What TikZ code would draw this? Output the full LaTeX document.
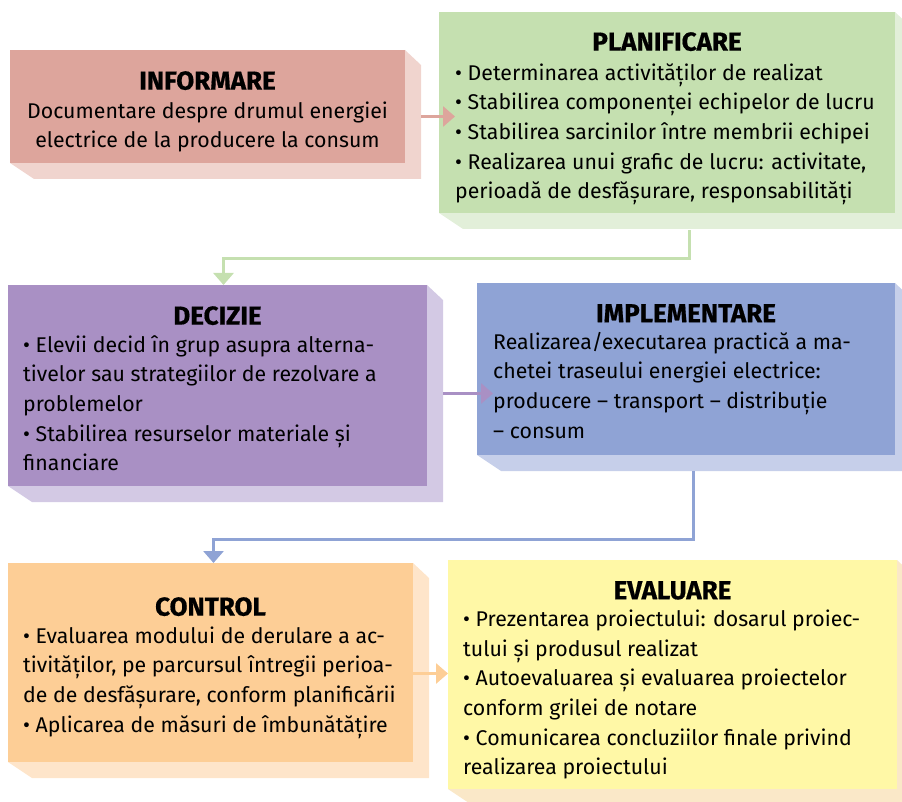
\documentclass[tikz,border=0pt]{standalone}
\usepackage{fontspec}
\setmainfont{Fira Sans}
\newfontfamily\stagefont{Fira Sans}[BoldFeatures={FakeBold=0.6}]
\usetikzlibrary{positioning, backgrounds, arrows.meta}

\definecolor{infoF}{HTML}{DDA59C}
\definecolor{infoS}{HTML}{F0D4CE}
\definecolor{planF}{HTML}{C5E0B0}
\definecolor{planS}{HTML}{E2EFD9}
\definecolor{deciF}{HTML}{A990C4}
\definecolor{deciS}{HTML}{D3C9E4}
\definecolor{implF}{HTML}{8FA3D5}
\definecolor{implS}{HTML}{C6CFEA}
\definecolor{ctrlF}{HTML}{FDCE96}
\definecolor{ctrlS}{HTML}{FEE5CA}
\definecolor{evalF}{HTML}{FFF8A6}
\definecolor{evalS}{HTML}{FAE8C8}

\begin{document}
\begin{tikzpicture}[
    x=1pt, y=-1pt,
    stagebox/.style={inner sep=0, outer sep=0, anchor=north west},
    stagetitle/.style={inner sep=0, font=\stagefont\bfseries\fontsize{26}{30}\selectfont},
    stagetext/.style={inner sep=0, anchor=north west, align=left, font=\fontsize{21.3}{29.6}\selectfont},
    flow/.style={line width=3pt, -{Triangle[width=20pt, length=12pt]}}
]
    \useasboundingbox (0,0) rectangle (902,802);

    % Front faces of the six stages
    \node[stagebox, fill=infoF, minimum width=395pt, minimum height=113pt] (info) at (10,50) {};
    \node[stagebox, fill=planF, minimum width=456pt, minimum height=201pt] (plan) at (439,12) {};
    \node[stagebox, fill=deciF, minimum width=419pt, minimum height=201pt] (deci) at (8,285) {};
    \node[stagebox, fill=implF, minimum width=418pt, minimum height=172pt] (impl) at (477,283) {};
    \node[stagebox, fill=ctrlF, minimum width=405pt, minimum height=199pt] (ctrl) at (8,563) {};
    \node[stagebox, fill=evalF, minimum width=449pt, minimum height=229pt] (eval) at (448,560) {};

    % Extruded shadows behind the faces
    \begin{scope}[on background layer]
        \foreach \n/\c in {info/infoS, plan/planS, deci/deciS, impl/implS, ctrl/ctrlS, eval/evalS} {
            \fill[\c] (\n.north east) -- ++(16,15) |- ([xshift=24pt, yshift=-16pt]\n.south west)
                -- (\n.south west) -- cycle;
        }
    \end{scope}

    % Titles
    \node[stagetitle, below=21pt of info.north] (infot) {INFORMARE};
    \node[stagetitle, below=20pt of plan.north] (plant) {PLANIFICARE};
    \node[stagetitle, below=21pt of deci.north] (decit) {DECIZIE};
    \node[stagetitle, below=21pt of impl.north] (implt) {IMPLEMENTARE};
    \node[stagetitle, below=34pt of ctrl.north] (ctrlt) {CONTROL};
    \node[stagetitle, below=21pt of eval.north] (evalt) {EVALUARE};

    % Texts
    \node[stagetext, anchor=north, align=center, yshift=-7pt] (infob) at (infot.south)
        {\strut Documentare despre drumul energiei\\electrice de la producere la consum};
    \node[stagetext, xshift=16pt, yshift=-8pt] (planb) at (plant.south -| plan.west)
        {\strut • Determinarea activităților de realizat\\
         • Stabilirea componenței echipelor de lucru\\
         • Stabilirea sarcinilor între membrii echipei\\
         • Realizarea unui grafic de lucru: activitate,\\
         perioadă de desfășurare, responsabilități};
    \node[stagetext, xshift=15pt, yshift=-6pt] (decib) at (decit.south -| deci.west)
        {\strut • Elevii decid în grup asupra alterna-\\
         tivelor sau strategiilor de rezolvare a\\
         problemelor\\
         • Stabilirea resurselor materiale și\\
         financiare};
    \node[stagetext, xshift=16pt, yshift=-6pt] (implb) at (implt.south -| impl.west)
        {\strut Realizarea/executarea practică a ma-\\
         chetei traseului energiei electrice:\\
         producere – transport – distribuție\\
         – consum};
    \node[stagetext, xshift=15pt, yshift=-6pt] (ctrlb) at (ctrlt.south -| ctrl.west)
        {\strut • Evaluarea modului de derulare a ac-\\
         tivităților, pe parcursul întregii perioa-\\
         de de desfășurare, conform planificării\\
         • Aplicarea de măsuri de îmbunătățire};
    \node[stagetext, xshift=15pt, yshift=-6pt] (evalb) at (evalt.south -| eval.west)
        {\strut • Prezentarea proiectului: dosarul proiec-\\
         tului și produsul realizat\\
         • Autoevaluarea și evaluarea proiectelor\\
         conform grilei de notare\\
         • Comunicarea concluziilor finale privind\\
         realizarea proiectului};

    % Connectors
    \draw[flow, infoF] ([shift={(16,10)}]info.east) -- ([shift={(16,10)}]info.east -| plan.west);
    \draw[flow, planF] ([shift={(22,17)}]plan.south) -- ++(0,29) -| ([xshift=6pt]deci.north);
    \draw[flow, deciF] ([shift={(16,8)}]deci.east) -- ([shift={(16,8)}]deci.east -| impl.west);
    \draw[flow, implF] ([shift={(7,16)}]impl.south) -- ++(0,68) -| ([xshift=3pt]ctrl.north);
    \draw[flow, ctrlF] ([yshift=-11pt]ctrl.east) -- ([yshift=-11pt]ctrl.east -| eval.west);

\end{tikzpicture}
\end{document}
